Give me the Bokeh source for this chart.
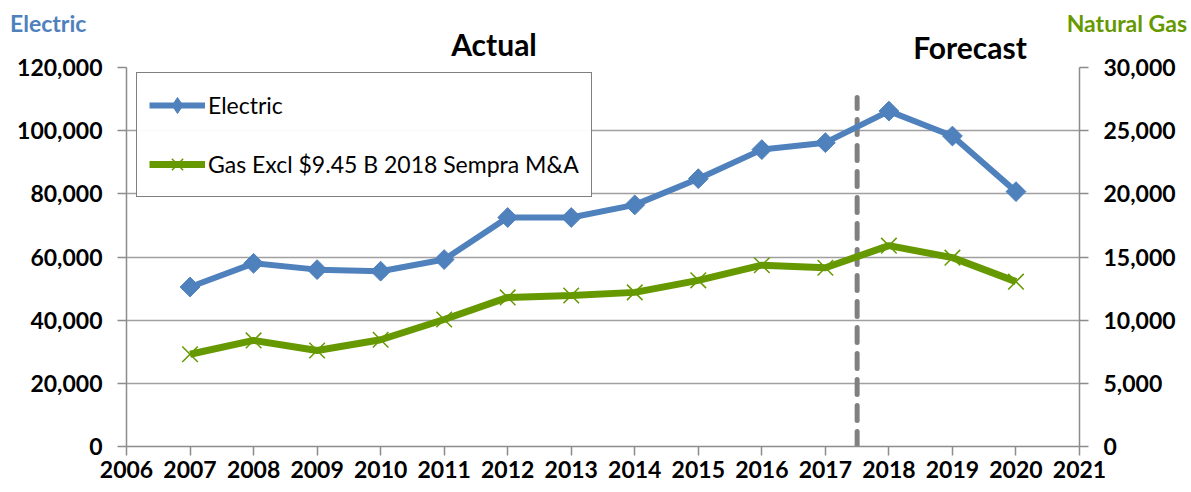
from bokeh.plotting import figure
from bokeh.layouts import column
from bokeh.models import (Range1d, LinearAxis, FixedTicker, NumeralTickFormatter,
                          Legend, LegendItem, ColumnDataSource, Div)
from bokeh.embed import file_html
from bokeh.resources import INLINE
import math

years = [2007, 2008, 2009, 2010, 2011, 2012, 2013, 2014, 2015, 2016, 2017, 2018, 2019, 2020]
electric = [50500, 58000, 56000, 55500, 59200, 72500, 72500, 76500, 84800, 94000, 96200, 106200, 98300, 80700]
gas = [7300, 8400, 7600, 8450, 10050, 11800, 11950, 12200, 13150, 14350, 14150, 15900, 14950, 13050]
x_ticks = list(range(2006, 2022))
left_ticks = [0, 20000, 40000, 60000, 80000, 100000, 120000]
right_ticks = [0, 5000, 10000, 15000, 20000, 25000, 30000]
divider_year = 2017.5
divider_top = 110500

BLUE = "#4F81BD"
GREEN = "#669900"
FONT = "Lato"

W = 1190
H = 491

# ---------- main chart ----------
p = figure(width=W, height=H, output_backend="svg", toolbar_location=None,
           x_range=Range1d(2006, 2021), y_range=Range1d(0, 120000),
           min_border_left=126, min_border_right=111, min_border_top=67,
           min_border_bottom=45)
p.extra_y_ranges = {"gas": Range1d(0, 30000)}
p.outline_line_color = None
p.background_fill_color = "white"
p.border_fill_color = "white"

p.xgrid.visible = False
p.ygrid.ticker = FixedTicker(ticks=left_ticks)
p.ygrid.grid_line_color = "#A0A0A0"
p.ygrid.grid_line_width = 1.5

def style_axis(ax):
    ax.axis_line_color = "#8C8C8C"
    ax.axis_line_width = 1.5
    ax.major_tick_line_color = "#8C8C8C"
    ax.major_tick_line_width = 1.5
    ax.major_tick_out = 9
    ax.major_tick_in = 0
    ax.minor_tick_line_color = None
    ax.major_label_text_font = FONT
    ax.major_label_text_font_style = "bold"
    ax.major_label_text_font_size = "23px"
    ax.major_label_text_color = "black"

xa = p.xaxis[0]
style_axis(xa)
xa.ticker = FixedTicker(ticks=x_ticks)
xa.major_label_standoff = 5

ya = p.yaxis[0]
style_axis(ya)
ya.ticker = FixedTicker(ticks=left_ticks)
ya.formatter = NumeralTickFormatter(format="0,0")
ya.major_label_standoff = 15

ra = LinearAxis(y_range_name="gas", ticker=FixedTicker(ticks=right_ticks),
                formatter=NumeralTickFormatter(format="0,0"))
style_axis(ra)
ra.major_label_standoff = 15
p.add_layout(ra, "right")

# divider between actual and forecast
p.line(x=[divider_year, divider_year], y=[0, divider_top], line_color="#808080",
       line_width=5, line_dash="15 11", line_cap="round")

src_e = ColumnDataSource(dict(x=years, y=electric))
src_g = ColumnDataSource(dict(x=years, y=gas))

le = p.line("x", "y", source=src_e, line_color=BLUE, line_width=6)
se = p.scatter("x", "y", source=src_e, marker="square", angle=math.pi / 4, size=14,
               fill_color=BLUE, line_color=BLUE)
# diamond drawn inside the rotated squares; provides the legend key
sd = p.scatter("x", "y", source=src_e, marker="diamond", size=17,
               fill_color=BLUE, line_color=BLUE)
lg = p.line("x", "y", source=src_g, y_range_name="gas", line_color=GREEN, line_width=7)
sg = p.scatter("x", "y", source=src_g, y_range_name="gas", marker="x", size=22,
               line_color=GREEN, line_width=1.5)

legend = Legend(items=[LegendItem(label="Electric", renderers=[le, sd]),
                       LegendItem(label="Gas Excl $9.45 B 2018 Sempra M&A", renderers=[lg, sg])],
                location=(10, 249))
legend.border_line_color = "black"
legend.border_line_width = 1.5
legend.background_fill_color = "white"
legend.label_text_font = FONT
legend.label_text_font_size = "23px"
legend.label_text_color = "black"
legend.glyph_width = 56
legend.glyph_height = 40
legend.label_height = 40
legend.spacing = 19
legend.padding = 12
legend.margin = 0
legend.label_standoff = 3
p.add_layout(legend, "center")

# ---------- titles (HTML text laid over the top border of the chart) ----------
def span(text, color, size, top, left=None, right=None, center=False):
    pos = f"left:{left}px;" if left is not None else f"right:{right}px;"
    tr = "transform:translateX(-50%);" if center else ""
    return (f'<span style="position:absolute;{pos}top:{top}px;{tr}color:{color};'
            f'font-family:{FONT};font-weight:bold;font-size:{size}px;line-height:1;'
            f'white-space:nowrap;">{text}</span>')

header_html = (
    f'<div style="position:relative;width:{W}px;height:62px;margin:0;padding:0;">'
    + span("Electric", BLUE, 23, 11.6, left=10)
    + span("Natural Gas", GREEN, 23, 11.6, right=W - 1187)
    + span("Actual", "black", 30, 29.4, left=494, center=True)
    + span("Forecast", "black", 30, 32.4, left=970, center=True)
    + "</div>"
)
header = Div(text=header_html, width=W, height=62, margin=0,
             styles={"position": "absolute", "top": "0px", "left": "0px",
                     "z-index": "5", "pointer-events": "none"})

layout = column(p, header, spacing=0)
open("out.html", "w").write(file_html(layout, INLINE))
